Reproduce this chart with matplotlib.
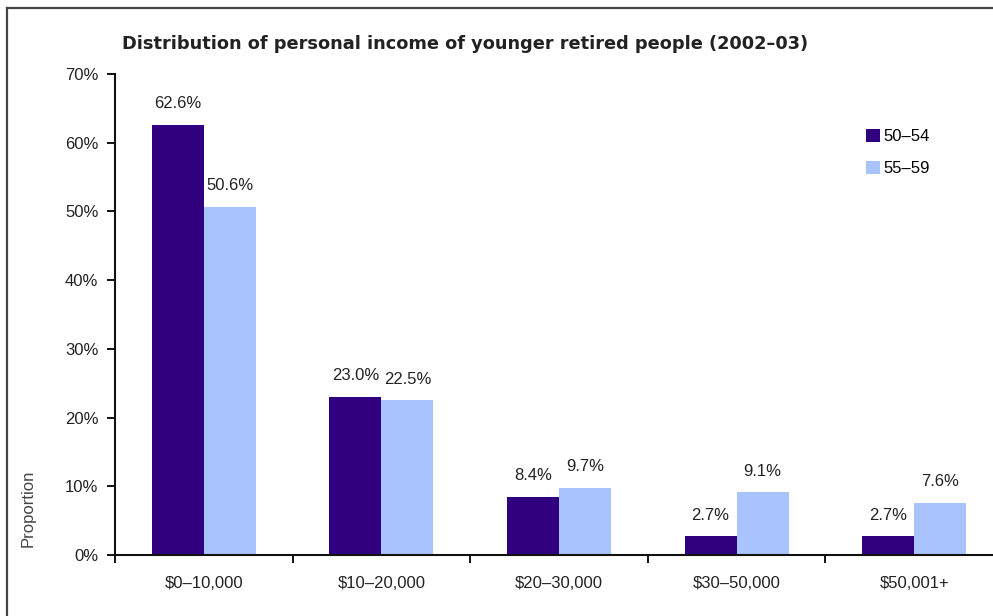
import numpy as np
import matplotlib
matplotlib.use("Agg")
import matplotlib.pyplot as plt
from matplotlib.lines import Line2D

# income bands and the share of each age group in them
categories = ["$0\u201310,000", "$10\u201320,000", "$20\u201330,000", "$30\u201350,000", "$50,001+"]
age_50_54 = [62.6, 23.0, 8.4, 2.7, 2.7]
age_55_59 = [50.6, 22.5, 9.7, 9.1, 7.6]
series_names = ["50\u201354", "55\u201359"]
y_ticks = [0, 10, 20, 30, 40, 50, 60, 70]

DARK = "#31007f"
LIGHT = "#a9c3ff"
TEXT = "#222222"
FS = 12

plt.rcParams['font.family'] = ['Liberation Sans', 'DejaVu Sans']

W, H = 993, 616
fig = plt.figure(figsize=(W / 100, H / 100), dpi=100)

# outer border (only top and left edges are in view)
fig.add_artist(Line2D([7 / W, 1.0], [1 - 8 / H, 1 - 8 / H], transform=fig.transFigure,
                      color="#444444", lw=1.6))
fig.add_artist(Line2D([7 / W, 7 / W], [0, 1 - 8 / H], transform=fig.transFigure,
                      color="#444444", lw=1.6))

ax = fig.add_axes([115 / W, 61 / H, 888 / W, 481 / H])

x = np.arange(len(categories))
width = 0.293
b1 = ax.bar(x - width / 2, age_50_54, width, color=DARK, label=series_names[0])
b2 = ax.bar(x + width / 2, age_55_59, width, color=LIGHT, label=series_names[1])

for bars, vals in ((b1, age_50_54), (b2, age_55_59)):
    for rect, v in zip(bars, vals):
        ax.annotate(f"{v:.1f}%", (rect.get_x() + rect.get_width() / 2, v),
                    xytext=(0, 10), textcoords="offset points",
                    ha="center", va="bottom", fontsize=FS, color=TEXT)

ax.set_xlim(-0.5, len(categories) - 0.5)
ax.set_ylim(0, 70)
ax.set_yticks(y_ticks)
ax.set_yticklabels([f"{t}%" for t in y_ticks])
ax.set_xticks(x)
ax.set_xticklabels(categories)
ax.set_xticks(np.arange(len(categories)) - 0.5, minor=True)

for s in ("top", "right"):
    ax.spines[s].set_visible(False)
for s in ("left", "bottom"):
    ax.spines[s].set_linewidth(1.5)
    ax.spines[s].set_color("#111111")

ax.tick_params(axis="y", length=6, width=1.3, labelsize=FS, labelcolor=TEXT, pad=6)
ax.tick_params(axis="x", which="major", length=0, labelsize=FS, labelcolor=TEXT, pad=15)
ax.tick_params(axis="x", which="minor", length=6, width=1.3)

fig.text(122 / W, 1 - 44 / H,
         "Distribution of personal income of younger retired people (2002\u201303)",
         ha="left", va="center", fontsize=12.8, fontweight="bold", color=TEXT,
         family="DejaVu Sans")

fig.text(28 / W, 1 - 508 / H, "Proportion", rotation=90, ha="center", va="center",
         fontsize=FS, color="#444444")

ax.legend(loc="upper left", bbox_to_anchor=(851 / W, 1 - 114 / H),
          bbox_transform=fig.transFigure, frameon=False, fontsize=FS,
          handlelength=0.85, handleheight=0.85, handletextpad=0.2, labelspacing=1.0)

fig.savefig("out.png", dpi=100)
